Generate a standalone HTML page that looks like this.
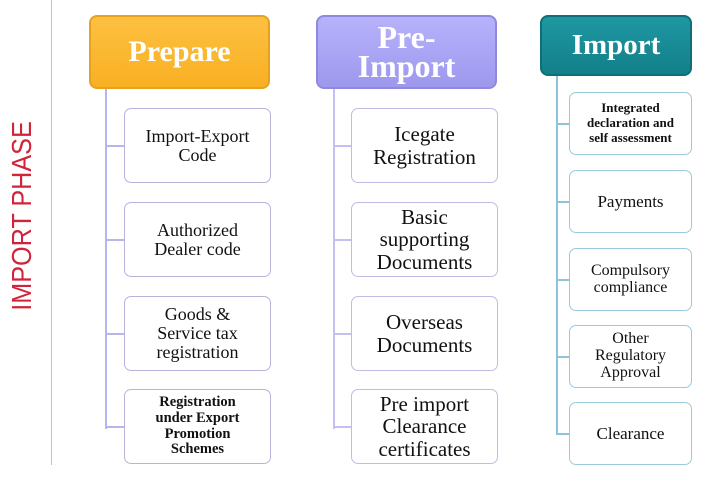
<!DOCTYPE html>
<html><head><style>
body{margin:0;width:706px;height:485px;background:#fff;position:relative;overflow:hidden;font-family:"Liberation Serif",serif}
.a{position:absolute}
.h{position:absolute;border-radius:8px;color:#fff;font-weight:bold;text-align:center;display:flex;align-items:center;justify-content:center;line-height:1;box-sizing:border-box}
.b{position:absolute;background:#fff;border-radius:7px;box-sizing:border-box;display:flex;align-items:center;justify-content:center;text-align:center;color:#111;line-height:1.05}
.v{position:absolute;width:2px}
.l{position:absolute;height:2px}
</style></head><body>
<div class="a" style="left:51px;top:0;width:1px;height:465px;background:#e9a9e6"></div>
<div class="a" style="left:22px;top:216px;transform:translate(-50%,-50%) rotate(-90deg) scaleX(0.9);color:#d0243a;font-family:'Liberation Sans',sans-serif;font-size:28px;white-space:nowrap">IMPORT PHASE</div>

<!-- Prepare -->
<div class="h" style="left:89px;top:15px;width:181px;height:74px;background:linear-gradient(#fcc040,#f9b024);border:2px solid #e6a21e;font-size:30px">Prepare</div>
<div class="v" style="left:105px;top:89px;height:340px;background:#b6b6ee"></div>
<div class="b" style="left:124px;top:108px;width:147px;height:75px;border:1.5px solid #b9b2da;font-size:18px">Import-Export<br>Code</div>
<div class="b" style="left:124px;top:202px;width:147px;height:75px;border:1.5px solid #b9b2da;font-size:18px">Authorized<br>Dealer code</div>
<div class="b" style="left:124px;top:296px;width:147px;height:75px;border:1.5px solid #b9b2da;font-size:18px">Goods &amp;<br>Service tax<br>registration</div>
<div class="b" style="left:124px;top:389px;width:147px;height:75px;border:1.5px solid #b9b2da;font-size:14.5px;font-weight:bold;line-height:1.1">Registration<br>under Export<br>Promotion<br>Schemes</div>
<div class="l" style="left:105px;top:145px;width:19px;background:#b6b6ee"></div>
<div class="l" style="left:105px;top:239px;width:19px;background:#b6b6ee"></div>
<div class="l" style="left:105px;top:333px;width:19px;background:#b6b6ee"></div>
<div class="l" style="left:105px;top:426px;width:19px;background:#b6b6ee"></div>

<!-- Pre-Import -->
<div class="h" style="left:316px;top:15px;width:181px;height:74px;background:linear-gradient(#b7b2fb,#9e98ee);border:2px solid #8e88de;font-size:32px;line-height:0.92">Pre-<br>Import</div>
<div class="v" style="left:333px;top:89px;height:340px;background:#c3c0f3"></div>
<div class="b" style="left:351px;top:108px;width:147px;height:75px;border:1.5px solid #c0bce6;font-size:21px"><span>Icegate<br>Registration</span></div>
<div class="b" style="left:351px;top:202px;width:147px;height:75px;border:1.5px solid #c0bce6;font-size:21px">Basic<br>supporting<br>Documents</div>
<div class="b" style="left:351px;top:296px;width:147px;height:75px;border:1.5px solid #c0bce6;font-size:21px">Overseas<br>Documents</div>
<div class="b" style="left:351px;top:389px;width:147px;height:75px;border:1.5px solid #c0bce6;font-size:21px">Pre import<br>Clearance<br>certificates</div>
<div class="l" style="left:333px;top:145px;width:18px;background:#c3c0f3"></div>
<div class="l" style="left:333px;top:239px;width:18px;background:#c3c0f3"></div>
<div class="l" style="left:333px;top:333px;width:18px;background:#c3c0f3"></div>
<div class="l" style="left:333px;top:426px;width:18px;background:#c3c0f3"></div>

<!-- Import -->
<div class="h" style="left:540px;top:15px;width:152px;height:61px;background:linear-gradient(#1e98a2,#137f89);border:2px solid #0f6f78;font-size:29px">Import</div>
<div class="v" style="left:556px;top:76px;height:358px;background:#8ec3d8"></div>
<div class="b" style="left:569px;top:92px;width:123px;height:63px;border:1.5px solid #9cc9dc;font-size:13px;font-weight:bold;line-height:1.15">Integrated<br>declaration and<br>self assessment</div>
<div class="b" style="left:569px;top:170px;width:123px;height:63px;border:1.5px solid #9cc9dc;font-size:17px">Payments</div>
<div class="b" style="left:569px;top:248px;width:123px;height:63px;border:1.5px solid #9cc9dc;font-size:16px">Compulsory<br>compliance</div>
<div class="b" style="left:569px;top:325px;width:123px;height:63px;border:1.5px solid #9cc9dc;font-size:16px">Other<br>Regulatory<br>Approval</div>
<div class="b" style="left:569px;top:402px;width:123px;height:63px;border:1.5px solid #9cc9dc;font-size:17px">Clearance</div>
<div class="l" style="left:556px;top:123px;width:13px;background:#8ec3d8"></div>
<div class="l" style="left:556px;top:201px;width:13px;background:#8ec3d8"></div>
<div class="l" style="left:556px;top:279px;width:13px;background:#8ec3d8"></div>
<div class="l" style="left:556px;top:356px;width:13px;background:#8ec3d8"></div>
<div class="l" style="left:556px;top:433px;width:13px;background:#8ec3d8"></div>
</body></html>
